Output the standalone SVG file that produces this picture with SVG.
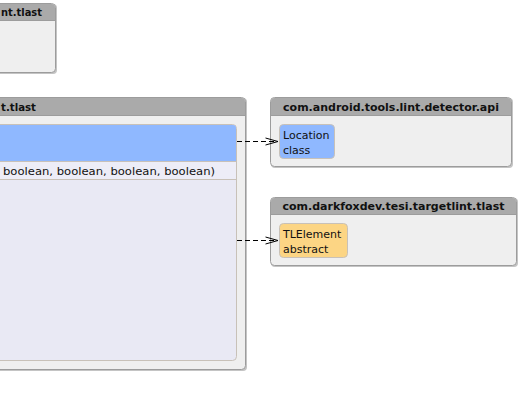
<svg xmlns="http://www.w3.org/2000/svg" width="520" height="408" viewBox="0 0 520 408">
<style>
.pkg{fill:#efefef;stroke:#9c9c9c;stroke-width:1}
.shadow{fill:#c4c4c4}
.hdr{fill:#aaaaaa}
.hline{stroke:#9c9c9c;stroke-width:1}
.ttl{font-family:"DejaVu Sans",Verdana,sans-serif;font-weight:bold;font-size:11px;fill:#111}
.txt{font-family:"DejaVu Sans",Verdana,sans-serif;font-size:11px;fill:#111}
.cls{stroke:#c8c1b8;stroke-width:1}
.dep{fill:none;stroke:#000;stroke-width:1;stroke-dasharray:5,3}
</style>
<defs>
<marker id="open" viewBox="0 0 14 10" refX="13" refY="5" markerWidth="14" markerHeight="10" markerUnits="userSpaceOnUse" orient="auto">
<path d="M0.5,1.5 L13,5 L0.5,8.5" fill="none" stroke="#000" stroke-width="1"/>
</marker>
</defs>
<rect width="520" height="408" fill="#ffffff"/>

<g id="pkg-top">
<rect class="shadow" x="-9" y="4" width="66" height="70" rx="4"/>
<rect class="pkg" x="-10.5" y="3.5" width="66" height="69" rx="4"/>
<path class="hdr" d="M-10,20 V7.5 Q-10,4 -6.5,4 H51.5 Q55,4 55,7.5 V20 Z"/>
<line class="hline" x1="-10" y1="20.5" x2="55" y2="20.5"/>
<text class="ttl" x="1" y="16" textLength="41" lengthAdjust="spacingAndGlyphs">nt.tlast</text>
</g>

<g id="pkg-main">
<rect class="shadow" x="-9" y="98" width="256" height="273" rx="4"/>
<rect class="pkg" x="-10.5" y="97.5" width="256" height="272" rx="4"/>
<path class="hdr" d="M-10,115 V101.5 Q-10,98 -6.5,98 H241.5 Q245,98 245,101.5 V115 Z"/>
<line class="hline" x1="-10" y1="115.5" x2="245" y2="115.5"/>
<text class="ttl" x="1" y="111" textLength="35" lengthAdjust="spacingAndGlyphs">t.tlast</text>
</g>

<g id="class-main">
<rect class="cls" x="-10.5" y="124.5" width="247" height="236" rx="4" fill="#e9e9f4"/>
<path d="M-10,161 V125 H233 Q236,125 236,128 V161 Z" fill="#8fb8ff"/>
<rect x="-10" y="161.5" width="246" height="18" fill="#ededf7"/>
<line class="cls" x1="-10" y1="161.5" x2="236" y2="161.5"/>
<line class="cls" x1="-10" y1="179.5" x2="236" y2="179.5"/>
<text class="txt" x="3" y="175" textLength="212" lengthAdjust="spacingAndGlyphs">boolean, boolean, boolean, boolean)</text>
</g>

<g id="pkg-api">
<rect class="shadow" x="271" y="98" width="242" height="70" rx="4"/>
<rect class="pkg" x="270.5" y="97.5" width="241" height="69" rx="4"/>
<path class="hdr" d="M271,115 V101.5 Q271,98 274.5,98 H507.5 Q511,98 511,101.5 V115 Z"/>
<line class="hline" x1="271" y1="115.5" x2="511" y2="115.5"/>
<text class="ttl" x="391" y="111" text-anchor="middle">com.android.tools.lint.detector.api</text>
</g>

<g id="node-location">
<rect class="cls" x="279.5" y="124.5" width="55" height="34" rx="4" fill="#8fb8ff"/>
<text class="txt" x="283" y="139">Location</text>
<text class="txt" x="283" y="154">class</text>
</g>

<g id="pkg-tlast">
<rect class="shadow" x="271" y="198" width="247" height="69" rx="4"/>
<rect class="pkg" x="270.5" y="197.5" width="246" height="68" rx="4"/>
<path class="hdr" d="M271,214 V201.5 Q271,198 274.5,198 H512.5 Q516,198 516,201.5 V214 Z"/>
<line class="hline" x1="271" y1="214.5" x2="516" y2="214.5"/>
<text class="ttl" x="393.5" y="210" text-anchor="middle">com.darkfoxdev.tesi.targetlint.tlast</text>
</g>

<g id="node-tlelement">
<rect class="cls" x="279.5" y="223.5" width="68" height="34" rx="4" fill="#fcd584"/>
<text class="txt" x="283" y="238">TLElement</text>
<text class="txt" x="283" y="253">abstract</text>
</g>

<g id="connectors">
<line class="dep" x1="237" y1="141.5" x2="278" y2="141.5" marker-end="url(#open)"/>
<line class="dep" x1="237" y1="240.5" x2="278" y2="240.5" marker-end="url(#open)"/>
</g>
</svg>
